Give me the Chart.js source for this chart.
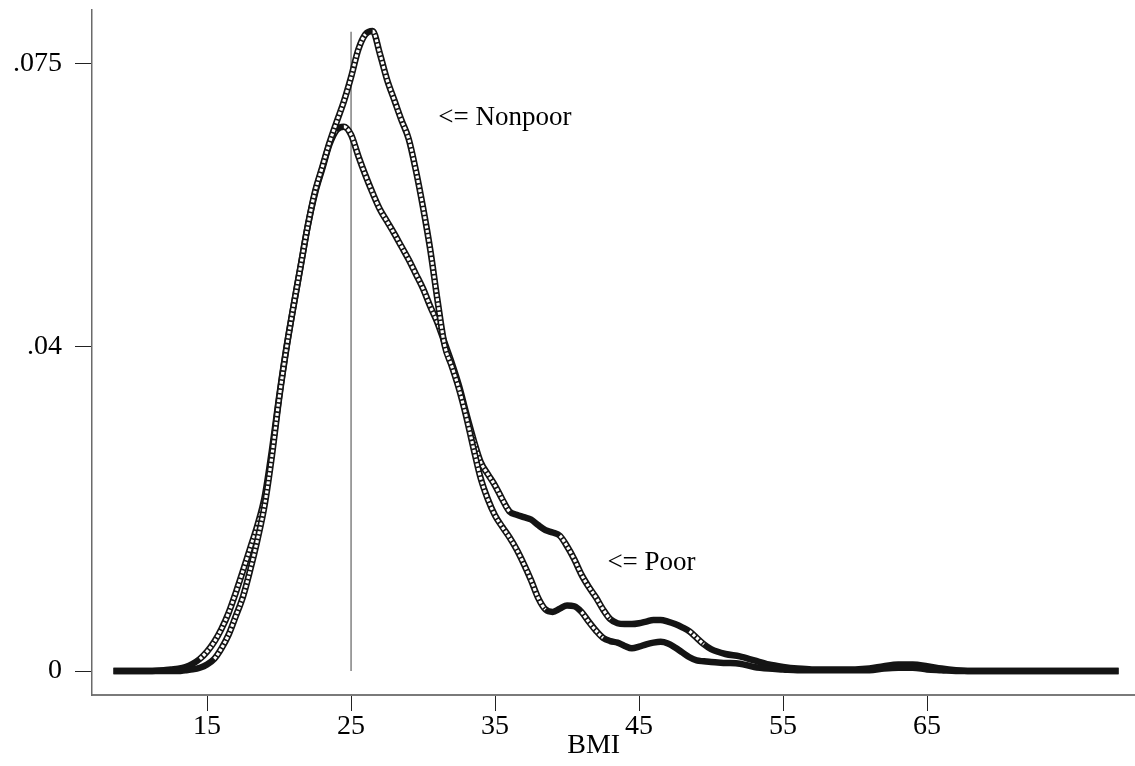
<!DOCTYPE html>
<html>
<head>
<meta charset="utf-8">
<script src="https://cdn.jsdelivr.net/npm/chart.js@4.4.1/dist/chart.umd.min.js"></script>
<style>
  html, body { margin: 0; padding: 0; background: #fff; }
  #wrap { width: 1135px; height: 766px; position: relative; }
</style>
</head>
<body>
<div id="wrap"><canvas id="bmiChart"></canvas></div>
<script>
// BMI grid (kernel density evaluation points)
const bmi = [8.5, 10, 11, 12, 12.5, 13, 13.5, 14, 14.5, 15, 15.5, 16, 16.5, 17, 17.5, 18, 18.5, 19, 19.5, 20,
  20.5, 21, 21.5, 22, 22.5, 23, 23.5, 24, 24.5, 25, 25.5, 26, 26.5, 27, 27.5, 28, 28.5, 29, 29.5, 30,
  30.5, 31, 31.5, 32, 32.5, 33, 33.5, 34, 34.5, 35, 35.5, 36, 36.5, 37, 37.5, 38, 38.5, 39, 39.5, 40,
  40.5, 41, 41.5, 42, 42.5, 43, 43.5, 44, 44.5, 45, 45.5, 46, 46.5, 47, 47.5, 48, 48.5, 49, 49.5, 50,
  51, 52, 53, 54, 55, 56, 57, 58, 59, 60, 61, 62, 63, 64, 65, 66, 67, 68, 70, 74, 78.3];

const poor = [0, 0, 0, 0.0001, 0.0002, 0.0003, 0.0005, 0.0009, 0.0015, 0.0024, 0.0036, 0.0052, 0.0072, 0.0097, 0.0124, 0.0152, 0.0180, 0.0215, 0.0272, 0.0338,
  0.0398, 0.0450, 0.0500, 0.0550, 0.0590, 0.0620, 0.0650, 0.0668, 0.0672, 0.0662, 0.0636, 0.0612, 0.0590, 0.0570, 0.0555, 0.0540, 0.0524, 0.0508, 0.0490, 0.0472,
  0.0450, 0.0430, 0.0405, 0.0380, 0.0352, 0.0318, 0.0286, 0.0258, 0.0243, 0.0229, 0.0212, 0.0197, 0.0193, 0.0190, 0.0187, 0.0180, 0.0174, 0.0171, 0.0167, 0.0154,
  0.0138, 0.0119, 0.0104, 0.0091, 0.0076, 0.0064, 0.0059, 0.0058, 0.0058, 0.0059, 0.0061, 0.0063, 0.0063, 0.0061, 0.0058, 0.0054, 0.0049, 0.0041, 0.0033, 0.0027,
  0.0021, 0.0018, 0.0013, 0.0008, 0.0005, 0.0003, 0.0002, 0.0002, 0.0002, 0.0002, 0.0003, 0.0006, 0.0008, 0.0008, 0.0006, 0.0003, 0.0001, 0, 0, 0, 0];

const nonpoor = [0, 0, 0, 0, 0, 0, 0.0001, 0.0002, 0.0004, 0.0008, 0.0015, 0.0028, 0.0045, 0.0068, 0.0092, 0.0125, 0.0162, 0.0205, 0.0265, 0.0336,
  0.0397, 0.0450, 0.0500, 0.0550, 0.0592, 0.0622, 0.0652, 0.0678, 0.0703, 0.0733, 0.0767, 0.0786, 0.0790, 0.0762, 0.0730, 0.0705, 0.0680, 0.0657, 0.0618, 0.0572,
  0.0520, 0.0458, 0.0402, 0.0376, 0.0348, 0.0314, 0.0275, 0.0238, 0.0212, 0.0192, 0.0178, 0.0165, 0.0150, 0.0132, 0.0112, 0.0090, 0.0076, 0.0073, 0.0077, 0.0081,
  0.0080, 0.0073, 0.0061, 0.0050, 0.0041, 0.0037, 0.0035, 0.0031, 0.0028, 0.0030, 0.0033, 0.0035, 0.0036, 0.0034, 0.0029, 0.0023, 0.0017, 0.0013, 0.0012, 0.0011,
  0.0010, 0.0009, 0.0005, 0.0003, 0.0002, 0.0001, 0.0001, 0.0001, 0.0001, 0.0001, 0.0001, 0.0003, 0.0004, 0.0004, 0.0002, 0.0001, 0, 0, 0, 0, 0];

const refLineX = 25;
const refLineTop = 0.0789;

const xTickValues = [15, 25, 35, 45, 55, 65];
const yTickValues = [0, 0.04, 0.075];
const yTickLabels = ['0', '.04', '.075'];

const FONT = "'Liberation Serif', 'Times New Roman', serif";

function points(ys) {
  return bmi.map((x, i) => ({ x: x, y: ys[i] }));
}

// white dashed centre on steep parts makes the band read like a chain of hollow circles
const chainSegment = {
  borderColor: ctx => {
    const dx = Math.abs(ctx.p1.x - ctx.p0.x);
    const dy = Math.abs(ctx.p1.y - ctx.p0.y);
    return dy > 0.9 * dx ? '#ffffff' : 'rgba(255,255,255,0)';
  }
};

function baseLine(ys) {
  return {
    data: points(ys),
    borderColor: '#141414',
    borderWidth: 6.5,
    pointRadius: 0,
    cubicInterpolationMode: 'monotone',
    fill: false
  };
}

function chainLine(ys) {
  return {
    data: points(ys),
    borderColor: '#ffffff',
    borderWidth: 3.2,
    borderDash: [3, 1.6],
    pointRadius: 0,
    cubicInterpolationMode: 'monotone',
    fill: false,
    segment: chainSegment
  };
}

const labelsPlugin = {
  id: 'curveLabels',
  afterDatasetsDraw(chart) {
    const { ctx, scales: { x, y }, chartArea } = chart;
    ctx.save();
    ctx.fillStyle = '#000';
    ctx.font = '27px ' + FONT;
    ctx.textBaseline = 'middle';
    ctx.textAlign = 'left';
    ctx.fillText('<= Nonpoor', x.getPixelForValue(31.05), y.getPixelForValue(0.0683));
    ctx.fillText('<= Poor', x.getPixelForValue(42.8), y.getPixelForValue(0.0134));
    ctx.textAlign = 'center';
    ctx.font = '28px ' + FONT;
    ctx.fillText('BMI', chartArea.left + 0.481 * (chartArea.right - chartArea.left), 746);
    ctx.restore();
  }
};

new Chart(document.getElementById('bmiChart'), {
  type: 'line',
  data: {
    datasets: [
      chainLine(nonpoor),
      baseLine(nonpoor),
      chainLine(poor),
      baseLine(poor),
      {
        data: [{ x: refLineX, y: 0 }, { x: refLineX, y: refLineTop }],
        borderColor: '#6e6e6e',
        borderWidth: 1.3,
        pointRadius: 0
      }
    ]
  },
  options: {
    responsive: true,
    maintainAspectRatio: false,
    animation: false,
    devicePixelRatio: 1,
    layout: { padding: { top: 10, right: 0, left: 0, bottom: 0 } },
    plugins: {
      legend: { display: false },
      tooltip: { enabled: false }
    },
    scales: {
      x: {
        type: 'linear',
        min: 7.01,
        max: 79.44,
        afterFit: s => { s.height = 71; s.paddingLeft = 0; s.paddingRight = 0; },
        afterBuildTicks: s => { s.ticks = xTickValues.map(v => ({ value: v })); },
        border: { display: true, color: '#7a7a7a', width: 2 },
        grid: { display: true, drawOnChartArea: false, drawTicks: true, tickLength: 16, tickColor: '#222', tickWidth: 1 },
        ticks: { color: '#000', font: { family: FONT, size: 28 }, padding: -1, maxRotation: 0, autoSkip: false }
      },
      y: {
        type: 'linear',
        min: -0.00296,
        max: 0.0816,
        afterFit: s => { s.width = 92; s.paddingTop = 0; s.paddingBottom = 0; },
        afterBuildTicks: s => { s.ticks = yTickValues.map(v => ({ value: v })); },
        border: { display: true, color: '#6a6a6a', width: 1.5 },
        grid: { display: true, drawOnChartArea: false, drawTicks: true, tickLength: 17, tickColor: '#222', tickWidth: 1 },
        ticks: {
          color: '#000',
          font: { family: FONT, size: 28 },
          padding: 13,
          autoSkip: false,
          callback: v => {
            const i = yTickValues.indexOf(v);
            return i >= 0 ? yTickLabels[i] : '';
          }
        }
      }
    }
  },
  plugins: [labelsPlugin]
});
</script>
</body>
</html>
